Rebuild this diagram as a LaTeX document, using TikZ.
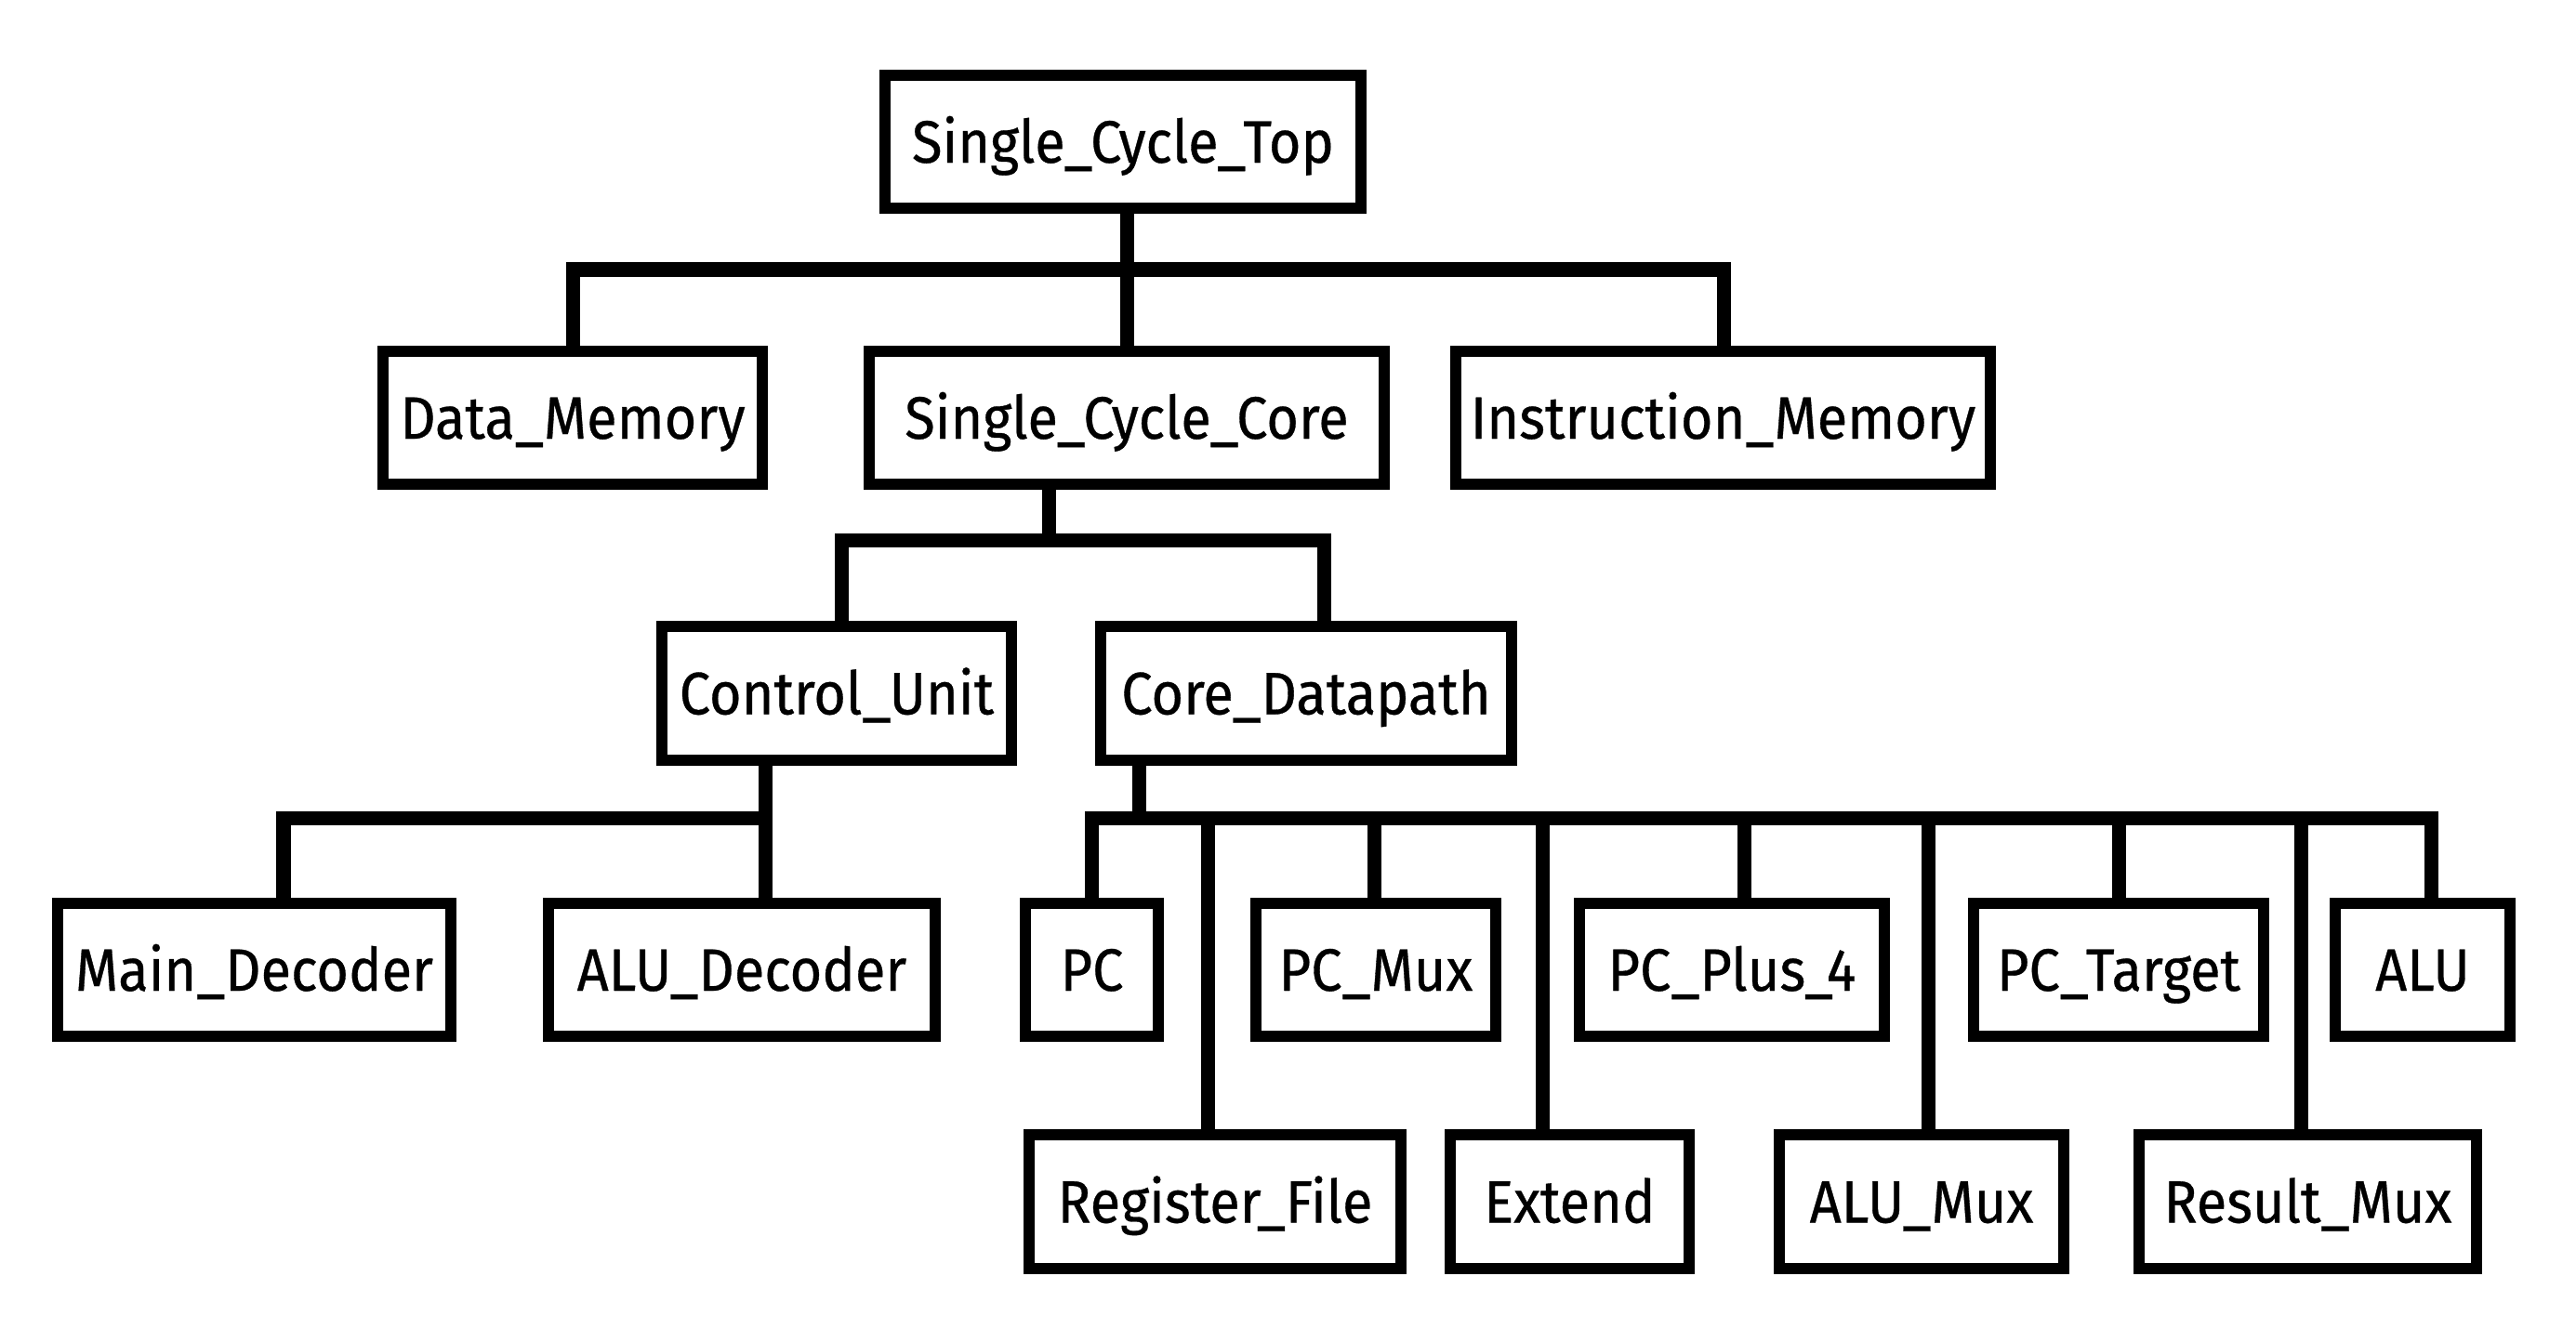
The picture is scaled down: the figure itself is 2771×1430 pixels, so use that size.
\documentclass[tikz,border=0pt]{standalone}
\usepackage{fontspec}
\newfontfamily\lbl[FakeStretch=0.925,FakeBold=0.5]{Fira Sans}
\begin{document}
\begin{tikzpicture}[x=0.01cm,y=-0.01cm,
  box/.style={draw=black,line width=0.12cm,fill=white,rectangle,inner sep=0pt,
    minimum height=1.43cm,text height=0.45cm,text depth=0pt,
    font=\lbl\fontsize{18.3pt}{20pt}\selectfont},
  conn/.style={draw=black,line width=0.15cm,line join=miter}]
\useasboundingbox[fill=white] (0,0) rectangle (2771,1430);
% bus joint coordinates
\coordinate (tL) at (616,290);
\coordinate (tM) at (1212,290);
\coordinate (tR) at (1854,290);
\coordinate (cL) at (905,581);
\coordinate (cM) at (1128,581);
\coordinate (cR) at (1424,581);
\coordinate (uL) at (305,880);
\coordinate (uR) at (823.5,880);
\coordinate (dM) at (1225,880);
\coordinate (d1) at (1174,880);
\coordinate (d2) at (1299,880);
\coordinate (d3) at (1478,880);
\coordinate (d4) at (1659,880);
\coordinate (d5) at (1876,880);
\coordinate (d6) at (2074,880);
\coordinate (d7) at (2279,880);
\coordinate (d8) at (2475,880);
\coordinate (d9) at (2615,880);
\node[box,minimum width=5.12cm] (top) at (1208,152.5) {Single\_Cycle\_Top};
\node[box,minimum width=4.07cm] (dm) at (616,449.5) {Data\_Memory};
\node[box,minimum width=5.53cm] (core) at (1212,449.5) {Single\_Cycle\_Core};
\node[box,minimum width=5.75cm] (im) at (1853.5,449.5) {Instruction\_Memory};
\node[box,minimum width=3.76cm] (cu) at (900,746) {Control\_Unit};
\node[box,minimum width=4.42cm] (cd) at (1405,746) {Core\_Datapath};
\node[box,minimum width=4.23cm] (md) at (273.5,1043.5) {Main\_Decoder};
\node[box,minimum width=4.16cm] (ad) at (798,1043.5) {ALU\_Decoder};
\node[box,minimum width=1.43cm] (pc) at (1174.5,1043.5) {PC};
\node[box,minimum width=2.58cm] (pcmux) at (1480,1043.5) {PC\_Mux};
\node[box,minimum width=3.28cm] (pcp4) at (1863,1043.5) {PC\_Plus\_4};
\node[box,minimum width=3.12cm] (pct) at (2279,1043.5) {PC\_Target};
\node[box,minimum width=1.875cm] (alu) at (2606,1043.5) {ALU};
\node[box,minimum width=4.00cm] (rf) at (1307,1293) {Register\_File};
\node[box,minimum width=2.57cm] (ext) at (1688.5,1293) {Extend};
\node[box,minimum width=3.06cm] (alumux) at (2067,1293) {ALU\_Mux};
\node[box,minimum width=3.63cm] (resmux) at (2482.5,1293) {Result\_Mux};
% top level
\draw[conn] (dm.north -| tL) -- (tL) -- (tR) -- (im.north -| tR);
\draw[conn] (top.south -| tM) -- (tM) -- (core.north -| tM);
% core level
\draw[conn] (cu.north -| cL) -- (cL) -- (cR) -- (cd.north -| cR);
\draw[conn] (core.south -| cM) -- (cM);
% control unit level
\draw[conn] (md.north -| uL) -- (uL) -- (uR) -- (ad.north -| uR);
\draw[conn] (cu.south -| uR) -- (uR);
% datapath level
\draw[conn] (pc.north -| d1) -- (d1) -- (d9) -- (alu.north -| d9);
\draw[conn] (cd.south -| dM) -- (dM);
\draw[conn] (d2) -- (rf.north -| d2);
\draw[conn] (d3) -- (pcmux.north -| d3);
\draw[conn] (d4) -- (ext.north -| d4);
\draw[conn] (d5) -- (pcp4.north -| d5);
\draw[conn] (d6) -- (alumux.north -| d6);
\draw[conn] (d7) -- (pct.north -| d7);
\draw[conn] (d8) -- (resmux.north -| d8);
\end{tikzpicture}
\end{document}
